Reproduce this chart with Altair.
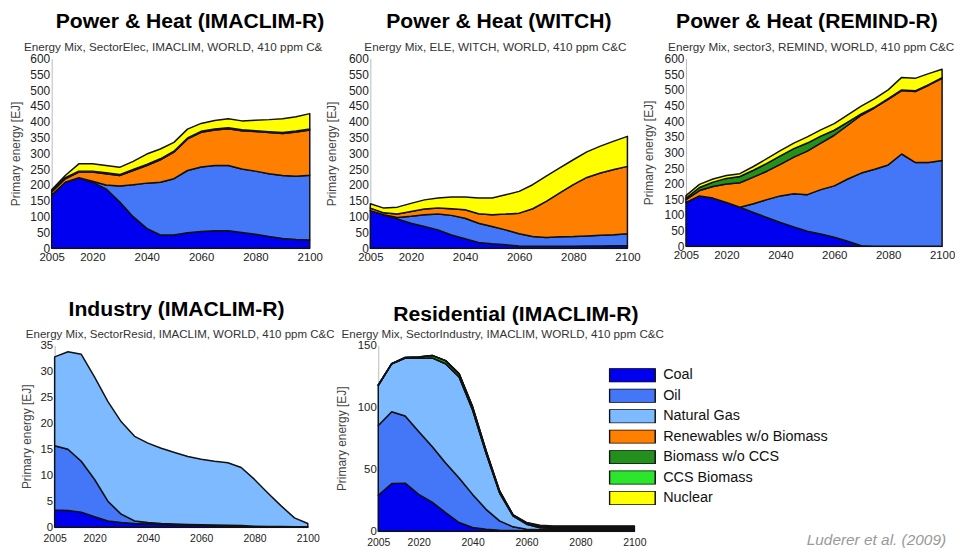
import altair as alt
import pandas as pd

YEARS = [2005, 2010, 2015, 2020, 2025, 2030, 2035, 2040, 2045, 2050,
         2055, 2060, 2065, 2070, 2075, 2080, 2085, 2090, 2095, 2100]
CATS = ["Coal", "Oil", "Natural Gas", "Renewables w/o Biomass",
        "Biomass w/o CCS", "CCS Biomass", "Nuclear"]
COLORS = ["#0000F0", "#4477F8", "#7DBAFF", "#FF8000", "#23901E", "#2BE62B", "#FFFF00"]
XTICKS = [2005, 2020, 2040, 2060, 2080, 2100]
YT600 = [0, 50, 100, 150, 200, 250, 300, 350, 400, 450, 500, 550, 600]
YT35 = [0, 5, 10, 15, 20, 25, 30, 35]
YT150 = [0, 50, 100, 150]

# Power & Heat (IMACLIM-R)
p1_coal = [168, 209, 223, 209, 188, 147, 100, 63, 42, 42, 49, 53, 55, 55, 50, 44, 37, 31, 28, 26]
p1_oil = [0, 0, 0, 3, 12, 50, 101, 143, 167, 178, 197, 204, 207, 207, 201, 200, 199, 199, 200, 205]
p1_ren = [10, 11, 18, 29, 36, 33, 45, 56, 71, 84, 100, 110, 112, 116, 121, 125, 130, 133, 140, 143]
p1_bio = [3, 3, 3, 3, 3, 3, 3, 3, 3, 3, 3, 3, 3, 3, 3, 3, 3, 3, 3, 3]
p1_nuc = [4, 7, 23, 23, 23, 23, 26, 33, 31, 28, 28, 25, 27, 29, 28, 33, 38, 44, 45, 49]

# Power & Heat (WITCH)
p2_coal = [119, 106, 93, 79, 69, 58, 42, 30, 18, 14, 11, 7, 6, 6, 6, 6, 7, 7, 8, 8]
p2_oil = [0, 0, 4, 22, 37, 50, 62, 65, 61, 55, 47, 39, 31, 28, 30, 31, 32, 34, 35, 38]
p2_ren = [8, 6, 11, 15, 18, 19, 21, 27, 30, 37, 50, 65, 88, 114, 139, 164, 185, 197, 206, 213]
p2_nuc = [14, 15, 22, 26, 29, 32, 37, 40, 50, 53, 61, 69, 76, 80, 79, 79, 81, 85, 90, 95]

# Power & Heat (REMIND-R)
p3_coal = [140, 161, 154, 140, 125, 108, 92, 76, 62, 48, 39, 29, 16, 2, 0, 0, 0, 0, 0, 0]
p3_oil = [0, 0, 0, 0, 0, 28, 57, 85, 106, 117, 142, 164, 199, 232, 246, 260, 295, 268, 268, 274]
p3_ren = [9, 17, 37, 59, 78, 85, 91, 101, 117, 139, 149, 162, 172, 185, 197, 210, 203, 227, 247, 263]
p3_bio = [5, 10, 14, 18, 20, 22, 25, 27, 27, 26, 22, 16, 10, 4, 2, 2, 2, 2, 2, 2]
p3_nuc = [8, 10, 10, 9, 9, 12, 15, 17, 18, 20, 20, 21, 23, 25, 27, 28, 40, 40, 35, 27]

# Industry (IMACLIM-R)
p4_coal = [3.3, 3.2, 2.9, 2.0, 1.2, 0.9, 0.7, 0.6, 0.5, 0.45, 0.4, 0.35, 0.3, 0.25, 0.2, 0.15, 0.1, 0.1, 0.05, 0.05]
p4_oil = [12.4, 11.8, 9.8, 7.2, 3.8, 1.6, 0.5, 0.3, 0.2, 0.15, 0.1, 0.1, 0.1, 0.1, 0.1, 0.05, 0.05, 0.05, 0.05, 0.05]
p4_gas = [17.1, 18.8, 20.6, 19.7, 19.2, 17.8, 16.3, 15.3, 14.5, 13.8, 13.1, 12.65, 12.3, 12.05, 11.2, 9.0, 6.45, 3.95, 1.7, 0.6]

# Residential (IMACLIM-R)
p5_coal = [28.9, 38.5, 38.8, 29.7, 23.5, 15.0, 7.0, 3.0, 1.6, 0.8, 0.5, 0.4, 0.4, 0.4, 0.4, 0.4, 0.4, 0.4, 0.4, 0.4]
p5_oil = [56.4, 58.0, 54.2, 50.8, 44.9, 40.0, 36.0, 26.7, 16.0, 7.5, 3.0, 1.2, 0.8, 0.7, 0.7, 0.7, 0.7, 0.7, 0.7, 0.7]
p5_gas = [32.6, 38.8, 46.8, 59.3, 71.6, 80.3, 81.6, 68.2, 45.4, 22.7, 8.8, 4.0, 1.5, 1.1, 1.1, 1.1, 1.1, 1.1, 1.1, 1.1]
p5_ren = [0, 0, 0, 0, 0, 0, 0, 0, 0, 0, 0, 0.4, 0.6, 0.6, 0.6, 0.6, 0.6, 0.6, 0.6, 0.6]
p5_bio = [0, 0, 0.5, 1.0, 2.0, 2.5, 2.5, 2.5, 2.0, 1.5, 0.8, 0.5, 0.5, 0.5, 0.5, 0.5, 0.5, 0.5, 0.5, 0.5]
p5_ccs = [0, 0, 0, 0, 0, 0, 0, 0, 0, 0, 0, 0.2, 0.4, 0.4, 0.4, 0.4, 0.4, 0.4, 0.4, 0.4]
p5_nuc = [0, 0, 0, 0, 0, 0, 0, 0, 0, 0, 0, 0.3, 0.5, 0.5, 0.5, 0.5, 0.5, 0.5, 0.5, 0.5]

FONT = "Liberation Sans"


def long_df(series):
    rows = []
    for cat, vals in series.items():
        k = CATS.index(cat)
        for yr, v in zip(YEARS, vals):
            rows.append({"year": yr, "cat": cat, "k": k, "v": v})
    return pd.DataFrame(rows)


def panel(series, title, tdx, toff, subtitle, sx, sy, ssize, width, height, xrange,
          ymax, yticks, yoff, tpad, lsize, xlsize, xlpad, legend=None, extra=None):
    df = long_df(series)
    area = alt.Chart(df).mark_area(
        stroke="#111", strokeWidth=1.5, strokeJoin="round", interpolate="linear"
    ).encode(
        x=alt.X("year:Q",
                scale=alt.Scale(domain=[2005, 2100], range=xrange, nice=False, zero=False),
                axis=alt.Axis(values=XTICKS, format="d", title=None, labelFontSize=xlsize,
                              labelFont=FONT, labelColor="#222", ticks=False, tickSize=0,
                              labelPadding=xlpad, domainColor="#bbb", grid=False,
                              labelFlush=False)),
        y=alt.Y("v:Q", stack="zero",
                scale=alt.Scale(domain=[0, ymax], nice=False, zero=True),
                axis=alt.Axis(values=yticks, title="Primary energy [EJ]", labelFontSize=lsize,
                              labelFont=FONT, labelColor="#222", ticks=False, tickSize=0,
                              labelPadding=2, domainColor="#bbb", grid=False, offset=yoff,
                              titleFont=FONT, titleFontSize=12, titleFontWeight="normal",
                              titleColor="#444", titlePadding=tpad)),
        color=alt.Color("cat:N", scale=alt.Scale(domain=CATS, range=COLORS), legend=legend),
        order=alt.Order("k:Q", sort="ascending"),
    )
    sub = alt.Chart(pd.DataFrame({"t": [subtitle]})).mark_text(
        align="left", baseline="alphabetic", fontSize=ssize, color="#333", font=FONT
    ).encode(x=alt.value(sx), y=alt.value(sy), text="t:N")
    layers = [area, sub]
    if extra is not None:
        layers.append(extra)
    return alt.layer(*layers).properties(
        width=width, height=height,
        title=alt.Title(text=title, anchor="start", frame="group", dx=tdx, offset=toff,
                        fontSize=21.3, font=FONT, fontWeight="bold", color="black",
                        baseline="alphabetic"),
    )


p1 = panel({"Coal": p1_coal, "Oil": p1_oil, "Renewables w/o Biomass": p1_ren,
            "Biomass w/o CCS": p1_bio, "Nuclear": p1_nuc},
           "Power & Heat (IMACLIM-R)", 4, -7,
           "Energy Mix, SectorElec, IMACLIM, WORLD, 410 ppm C&", -28, -7.3, 11.8,
           321, 191, [0, 260], 600, YT600, 0, 7, 12, 11.5, 3)

p2 = panel({"Coal": p2_coal, "Oil": p2_oil, "Renewables w/o Biomass": p2_ren,
            "Nuclear": p2_nuc},
           "Power & Heat (WITCH)", 16, -7,
           "Energy Mix, ELE, WITCH, WORLD, 410 ppm C&C", -6, -7.3, 11.8,
           318, 191, [0, 259], 600, YT600, 0, 10, 12, 11.5, 3)

p3 = panel({"Coal": p3_coal, "Oil": p3_oil, "Renewables w/o Biomass": p3_ren,
            "Biomass w/o CCS": p3_bio, "Nuclear": p3_nuc},
           "Power & Heat (REMIND-R)", -10, -7,
           "Energy Mix, sector3, REMIND, WORLD, 410 ppm C&C", -18, -7.3, 11.8,
           258, 189, [0, 258], 600, YT600, 0, 9, 12, 11.5, 3)

p4 = panel({"Coal": p4_coal, "Oil": p4_oil, "Natural Gas": p4_gas},
           "Industry (IMACLIM-R)", 17, -9,
           "Energy Mix, SectorResid, IMACLIM, WORLD, 410 ppm C&C", -26, -8, 11.6,
           321, 183, [3, 258], 35, YT35, -3, 7, 11.5, 10.5, 6)

legend5 = alt.Legend(
    orient="none", legendX=240, legendY=23, title=None,
    symbolType="M-1,-0.304L1,-0.304L1,0.304L-1,0.304Z", symbolSize=2116,
    symbolStrokeColor="#111", symbolStrokeWidth=1.5, symbolOpacity=1,
    clipHeight=14, rowPadding=5.6, labelOffset=7, labelFontSize=14.5,
    labelFont=FONT, labelColor="#111", labelLimit=400, padding=0,
)

caption = alt.Chart(pd.DataFrame({"t": ["Luderer et al. (2009)"]})).mark_text(
    align="right", baseline="middle", fontSize=15.5, fontStyle="italic",
    color="#999", font=FONT
).encode(x=alt.value(580), y=alt.value(196), text="t:N")

p5 = panel({"Coal": p5_coal, "Oil": p5_oil, "Natural Gas": p5_gas,
            "Renewables w/o Biomass": p5_ren, "Biomass w/o CCS": p5_bio,
            "CCS Biomass": p5_ccs, "Nuclear": p5_nuc},
           "Residential (IMACLIM-R)", 23, -13,
           "Energy Mix, SectorIndustry, IMACLIM, WORLD, 410 ppm C&C", -29, -7.5, 11.7,
           318, 187, [8, 266], 150, YT150, -8, 9, 11.5, 10.5, 6,
           legend=legend5, extra=caption)

chart = alt.concat(
    p1, p2, p3, p4, p5, columns=3, spacing={"row": 98, "column": 0}, bounds="flush"
).resolve_scale(
    color="independent", x="independent", y="independent"
).properties(
    padding={"left": 1, "top": 1, "right": 0, "bottom": 0}
).configure_view(stroke=None)

chart.save("out.html", embed_options={"renderer": "svg", "actions": False})
